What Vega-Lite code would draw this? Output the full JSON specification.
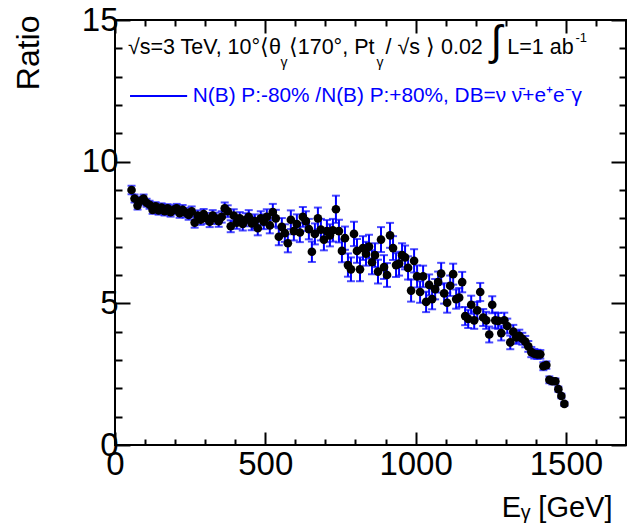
{
  "$schema": "https://vega.github.io/schema/vega-lite/v6.json",
  "width": 511,
  "height": 425,
  "autosize": {"type": "none"},
  "padding": {"left": 115, "top": 20, "right": 1, "bottom": 85},
  "background": "white",
  "config": {
    "font": "Liberation Sans",
    "view": {"stroke": "black", "strokeWidth": 2},
    "axis": {
      "grid": false,
      "domain": false,
      "tickColor": "black",
      "tickWidth": 2,
      "labelColor": "black",
      "titleColor": "black",
      "labelFont": "Liberation Sans",
      "titleFont": "Liberation Sans",
      "labelFontWeight": "normal",
      "titleFontWeight": "normal"
    }
  },
  "data": {
    "values": [
      {"E": 55, "R": 9.0, "err": 0.15}, {"E": 65, "R": 8.7, "err": 0.14}, {"E": 75, "R": 8.45, "err": 0.14},
      {"E": 85, "R": 8.62, "err": 0.14}, {"E": 95, "R": 8.7, "err": 0.14}, {"E": 105, "R": 8.55, "err": 0.14},
      {"E": 115, "R": 8.48, "err": 0.14}, {"E": 125, "R": 8.3, "err": 0.14}, {"E": 135, "R": 8.42, "err": 0.15},
      {"E": 145, "R": 8.28, "err": 0.15}, {"E": 155, "R": 8.38, "err": 0.15}, {"E": 165, "R": 8.25, "err": 0.15},
      {"E": 175, "R": 8.35, "err": 0.15}, {"E": 185, "R": 8.22, "err": 0.16}, {"E": 195, "R": 8.3, "err": 0.16},
      {"E": 205, "R": 8.35, "err": 0.16}, {"E": 215, "R": 8.18, "err": 0.16}, {"E": 225, "R": 8.3, "err": 0.17},
      {"E": 235, "R": 8.2, "err": 0.17}, {"E": 245, "R": 8.12, "err": 0.17}, {"E": 255, "R": 8.25, "err": 0.17},
      {"E": 265, "R": 7.85, "err": 0.18}, {"E": 275, "R": 8.1, "err": 0.18}, {"E": 285, "R": 7.95, "err": 0.18},
      {"E": 295, "R": 8.15, "err": 0.18}, {"E": 305, "R": 8.0, "err": 0.19}, {"E": 315, "R": 7.88, "err": 0.19},
      {"E": 325, "R": 8.1, "err": 0.19}, {"E": 335, "R": 8.0, "err": 0.2}, {"E": 345, "R": 7.9, "err": 0.2},
      {"E": 355, "R": 8.05, "err": 0.2}, {"E": 365, "R": 8.35, "err": 0.21}, {"E": 375, "R": 8.25, "err": 0.21},
      {"E": 385, "R": 7.72, "err": 0.21}, {"E": 395, "R": 8.1, "err": 0.22}, {"E": 405, "R": 7.85, "err": 0.22},
      {"E": 415, "R": 8.0, "err": 0.22}, {"E": 425, "R": 7.8, "err": 0.23}, {"E": 435, "R": 7.95, "err": 0.23},
      {"E": 445, "R": 8.05, "err": 0.24}, {"E": 455, "R": 7.82, "err": 0.24}, {"E": 465, "R": 7.9, "err": 0.24},
      {"E": 475, "R": 7.65, "err": 0.25}, {"E": 485, "R": 8.0, "err": 0.25}, {"E": 495, "R": 7.88, "err": 0.26},
      {"E": 505, "R": 8.05, "err": 0.27}, {"E": 515, "R": 7.75, "err": 0.28}, {"E": 525, "R": 8.22, "err": 0.29},
      {"E": 535, "R": 8.0, "err": 0.3}, {"E": 545, "R": 7.35, "err": 0.3}, {"E": 555, "R": 7.7, "err": 0.31},
      {"E": 565, "R": 7.48, "err": 0.31}, {"E": 575, "R": 7.12, "err": 0.32}, {"E": 585, "R": 7.95, "err": 0.33},
      {"E": 595, "R": 7.55, "err": 0.33}, {"E": 605, "R": 7.8, "err": 0.34}, {"E": 615, "R": 7.5, "err": 0.34},
      {"E": 625, "R": 8.05, "err": 0.35}, {"E": 635, "R": 7.9, "err": 0.35}, {"E": 645, "R": 7.62, "err": 0.36},
      {"E": 655, "R": 6.82, "err": 0.36}, {"E": 665, "R": 7.45, "err": 0.37}, {"E": 675, "R": 8.0, "err": 0.38},
      {"E": 685, "R": 7.6, "err": 0.38}, {"E": 695, "R": 7.25, "err": 0.38}, {"E": 705, "R": 7.55, "err": 0.39},
      {"E": 715, "R": 7.4, "err": 0.39}, {"E": 725, "R": 7.58, "err": 0.4}, {"E": 735, "R": 8.32, "err": 0.48},
      {"E": 745, "R": 7.55, "err": 0.4}, {"E": 755, "R": 6.85, "err": 0.4}, {"E": 765, "R": 7.3, "err": 0.41},
      {"E": 775, "R": 6.35, "err": 0.41}, {"E": 785, "R": 6.2, "err": 0.42}, {"E": 795, "R": 7.45, "err": 0.43},
      {"E": 805, "R": 6.85, "err": 0.42}, {"E": 815, "R": 6.2, "err": 0.42}, {"E": 825, "R": 6.95, "err": 0.42},
      {"E": 835, "R": 6.75, "err": 0.42}, {"E": 845, "R": 7.0, "err": 0.42}, {"E": 855, "R": 6.45, "err": 0.42},
      {"E": 865, "R": 6.7, "err": 0.42}, {"E": 875, "R": 6.12, "err": 0.42}, {"E": 885, "R": 7.25, "err": 0.44},
      {"E": 895, "R": 6.28, "err": 0.42}, {"E": 905, "R": 6.0, "err": 0.42}, {"E": 915, "R": 7.4, "err": 0.44},
      {"E": 925, "R": 6.95, "err": 0.42}, {"E": 935, "R": 6.35, "err": 0.42}, {"E": 945, "R": 6.4, "err": 0.42},
      {"E": 955, "R": 6.7, "err": 0.42}, {"E": 965, "R": 6.62, "err": 0.42}, {"E": 975, "R": 6.25, "err": 0.41},
      {"E": 985, "R": 5.45, "err": 0.39}, {"E": 995, "R": 6.5, "err": 0.41}, {"E": 1005, "R": 5.95, "err": 0.39},
      {"E": 1015, "R": 5.4, "err": 0.38}, {"E": 1025, "R": 5.95, "err": 0.38}, {"E": 1035, "R": 5.05, "err": 0.36},
      {"E": 1045, "R": 5.65, "err": 0.37}, {"E": 1055, "R": 5.15, "err": 0.36}, {"E": 1065, "R": 5.5, "err": 0.36},
      {"E": 1075, "R": 5.75, "err": 0.37}, {"E": 1085, "R": 6.05, "err": 0.38}, {"E": 1095, "R": 5.35, "err": 0.36},
      {"E": 1105, "R": 5.02, "err": 0.35}, {"E": 1115, "R": 5.62, "err": 0.36}, {"E": 1125, "R": 6.03, "err": 0.37},
      {"E": 1135, "R": 5.15, "err": 0.34}, {"E": 1145, "R": 5.2, "err": 0.34}, {"E": 1155, "R": 5.75, "err": 0.36},
      {"E": 1165, "R": 4.55, "err": 0.32}, {"E": 1175, "R": 4.45, "err": 0.32}, {"E": 1185, "R": 4.95, "err": 0.32},
      {"E": 1195, "R": 4.4, "err": 0.3}, {"E": 1205, "R": 4.75, "err": 0.3}, {"E": 1215, "R": 5.4, "err": 0.32},
      {"E": 1225, "R": 4.5, "err": 0.3}, {"E": 1235, "R": 4.4, "err": 0.3}, {"E": 1245, "R": 3.9, "err": 0.28},
      {"E": 1255, "R": 4.95, "err": 0.3}, {"E": 1265, "R": 4.4, "err": 0.28}, {"E": 1275, "R": 4.38, "err": 0.28},
      {"E": 1285, "R": 3.95, "err": 0.26}, {"E": 1295, "R": 4.4, "err": 0.27}, {"E": 1305, "R": 4.2, "err": 0.26},
      {"E": 1315, "R": 3.62, "err": 0.24}, {"E": 1325, "R": 4.0, "err": 0.24}, {"E": 1335, "R": 3.8, "err": 0.23},
      {"E": 1345, "R": 3.85, "err": 0.22}, {"E": 1355, "R": 3.75, "err": 0.21}, {"E": 1365, "R": 3.65, "err": 0.2},
      {"E": 1375, "R": 3.48, "err": 0.19}, {"E": 1385, "R": 3.28, "err": 0.18}, {"E": 1395, "R": 3.22, "err": 0.17},
      {"E": 1405, "R": 3.2, "err": 0.16}, {"E": 1415, "R": 3.2, "err": 0.15}, {"E": 1425, "R": 2.78, "err": 0.14},
      {"E": 1435, "R": 2.82, "err": 0.13}, {"E": 1445, "R": 2.3, "err": 0.12}, {"E": 1455, "R": 2.25, "err": 0.11},
      {"E": 1465, "R": 2.25, "err": 0.1}, {"E": 1475, "R": 1.97, "err": 0.09}, {"E": 1485, "R": 1.73, "err": 0.08},
      {"E": 1495, "R": 1.45, "err": 0.07}
    ]
  },
  "resolve": {"axis": {"x": "independent", "y": "independent"}},
  "layer": [
    {
      "mark": {
        "type": "errorbar",
        "color": "#0000ff",
        "rule": {"strokeWidth": 2},
        "ticks": {"size": 8, "thickness": 2, "color": "#0000ff"}
      },
      "encoding": {
        "x": {
          "field": "E", "type": "quantitative",
          "scale": {"domain": [0, 1700], "nice": false, "zero": false},
          "axis": {
            "orient": "top", "title": null, "labels": false,
            "values": [0,100,200,300,400,500,600,700,800,900,1000,1100,1200,1300,1400,1500,1600],
            "tickSize": {"condition": {"test": "datum.value % 500 === 0", "value": -13}, "value": -6}
          }
        },
        "y": {
          "field": "R", "type": "quantitative",
          "scale": {"domain": [0, 15], "nice": false, "zero": false},
          "axis": {
            "orient": "right", "title": null, "labels": false,
            "values": [0,1,2,3,4,5,6,7,8,9,10,11,12,13,14,15],
            "tickSize": {"condition": {"test": "datum.value % 5 === 0", "value": -15}, "value": -7}
          }
        },
        "yError": {"field": "err"}
      }
    },
    {
      "mark": {"type": "circle", "color": "black", "opacity": 1, "size": 75},
      "encoding": {
        "x": {
          "field": "E", "type": "quantitative",
          "scale": {"domain": [0, 1700], "nice": false, "zero": false},
          "axis": {
            "orient": "bottom",
            "title": "Eᵧ [GeV]",
            "titleFontSize": 29,
            "titleAnchor": "end",
            "titleAlign": "right",
            "titleBaseline": "middle",
            "titleX": 497,
            "titleY": 62,
            "values": [0,100,200,300,400,500,600,700,800,900,1000,1100,1200,1300,1400,1500,1600],
            "format": "d",
            "labelExpr": "datum.value % 500 === 0 ? datum.label : ''",
            "labelFontSize": 33,
            "labelPadding": 16,
            "labelFlush": false,
            "labelOverlap": false,
            "tickSize": {"condition": {"test": "datum.value % 500 === 0", "value": -13}, "value": -6}
          }
        },
        "y": {
          "field": "R", "type": "quantitative",
          "scale": {"domain": [0, 15], "nice": false, "zero": false},
          "axis": {
            "orient": "left",
            "title": "Ratio",
            "titleFontSize": 32,
            "titleAngle": -90,
            "titleAlign": "right",
            "titleBaseline": "middle",
            "titleX": -87,
            "titleY": -5,
            "values": [0,1,2,3,4,5,6,7,8,9,10,11,12,13,14,15],
            "labelExpr": "datum.value % 5 === 0 ? datum.label : ''",
            "labelFontSize": 33,
            "labelPadding": 12,
            "labelFlush": false,
            "labelOverlap": false,
            "tickSize": {"condition": {"test": "datum.value % 5 === 0", "value": -15}, "value": -7}
          }
        }
      }
    },
    {
      "data": {"values": [{}]},
      "mark": {"type": "rule", "color": "#0000ff", "strokeWidth": 2},
      "encoding": {
        "x": {"datum": 50, "type": "quantitative", "axis": null},
        "x2": {"datum": 240},
        "y": {"datum": 12.32, "type": "quantitative", "axis": null}
      }
    },
    {
      "data": {"values": [{}]},
      "mark": {"type": "text", "text": "N(B) P:-80% /N(B) P:+80%, DB=ν ν̄+e⁺e⁻γ", "color": "#0000ff", "fontSize": 20.8, "align": "left", "baseline": "middle"},
      "encoding": {
        "x": {"datum": 259, "type": "quantitative", "axis": null},
        "y": {"datum": 12.32, "type": "quantitative", "axis": null}
      }
    },
    {
      "data": {"values": [{}]},
      "mark": {"type": "text", "text": "√s=3 TeV, 10°⟨θ", "color": "black", "fontSize": 21.5, "align": "left", "baseline": "middle"},
      "encoding": {
        "x": {"datum": 43, "type": "quantitative", "axis": null},
        "y": {"datum": 14.01, "type": "quantitative", "axis": null}
      }
    },
    {
      "data": {"values": [{}]},
      "mark": {"type": "text", "text": "γ", "color": "black", "fontSize": 14, "align": "center", "baseline": "middle"},
      "encoding": {
        "x": {"datum": 562, "type": "quantitative", "axis": null},
        "y": {"datum": 13.48, "type": "quantitative", "axis": null}
      }
    },
    {
      "data": {"values": [{}]},
      "mark": {"type": "text", "text": "⟨170°,  Pt", "color": "black", "fontSize": 21.5, "align": "left", "baseline": "middle"},
      "encoding": {
        "x": {"datum": 578, "type": "quantitative", "axis": null},
        "y": {"datum": 14.01, "type": "quantitative", "axis": null}
      }
    },
    {
      "data": {"values": [{}]},
      "mark": {"type": "text", "text": "γ", "color": "black", "fontSize": 14, "align": "center", "baseline": "middle"},
      "encoding": {
        "x": {"datum": 882, "type": "quantitative", "axis": null},
        "y": {"datum": 13.48, "type": "quantitative", "axis": null}
      }
    },
    {
      "data": {"values": [{}]},
      "mark": {"type": "text", "text": "/ √s ⟩ 0.02", "color": "black", "fontSize": 21.5, "align": "left", "baseline": "middle"},
      "encoding": {
        "x": {"datum": 900, "type": "quantitative", "axis": null},
        "y": {"datum": 14.01, "type": "quantitative", "axis": null}
      }
    },
    {
      "data": {"values": [{}]},
      "mark": {"type": "text", "text": "∫", "color": "black", "fontSize": 42, "align": "center", "baseline": "middle"},
      "encoding": {
        "x": {"datum": 1268, "type": "quantitative", "axis": null},
        "y": {"datum": 14.22, "type": "quantitative", "axis": null}
      }
    },
    {
      "data": {"values": [{}]},
      "mark": {"type": "text", "text": "L=1 ab", "color": "black", "fontSize": 21.5, "align": "left", "baseline": "middle"},
      "encoding": {
        "x": {"datum": 1305, "type": "quantitative", "axis": null},
        "y": {"datum": 14.01, "type": "quantitative", "axis": null}
      }
    },
    {
      "data": {"values": [{}]},
      "mark": {"type": "text", "text": "-1", "color": "black", "fontSize": 13, "align": "left", "baseline": "middle"},
      "encoding": {
        "x": {"datum": 1532, "type": "quantitative", "axis": null},
        "y": {"datum": 14.37, "type": "quantitative", "axis": null}
      }
    }
  ]
}
